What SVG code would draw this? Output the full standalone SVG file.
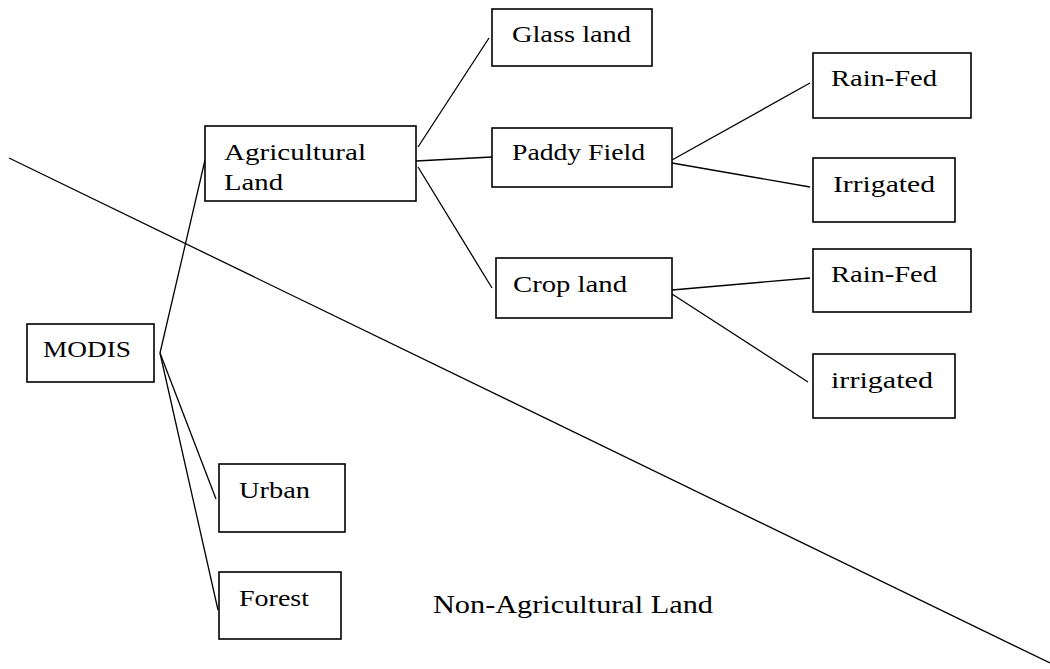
<svg xmlns="http://www.w3.org/2000/svg" width="1050" height="669" viewBox="0 0 1050 669">
<style>
.box{fill:#fff;stroke:#000;stroke-width:1.6}
.lbl{font-family:"Liberation Serif","Times New Roman",serif;font-size:24px;fill:#000}
.big{font-family:"Liberation Serif","Times New Roman",serif;font-size:26px;fill:#000}
.conn line{stroke:#000;stroke-width:1.3;fill:none}
</style>
<rect width="1050" height="669" fill="#fff"/>
<g id="divider" class="conn"><line x1="9" y1="158" x2="1050" y2="663"/></g>
<g id="connectors" class="conn">
<line x1="160" y1="353" x2="205" y2="160"/>
<line x1="160" y1="353" x2="216" y2="499"/>
<line x1="160" y1="353" x2="218" y2="610"/>
<line x1="418" y1="147" x2="489" y2="38"/>
<line x1="416" y1="161" x2="492" y2="157"/>
<line x1="418" y1="167" x2="492" y2="288"/>
<line x1="672" y1="160" x2="810" y2="83"/>
<line x1="672" y1="163" x2="810" y2="187"/>
<line x1="672" y1="290" x2="810" y2="278"/>
<line x1="672" y1="294" x2="808" y2="382"/>
</g>
<g id="modis"><rect class="box" x="27" y="324" width="127" height="58"/><text class="lbl" x="43" y="357" textLength="88" lengthAdjust="spacingAndGlyphs">MODIS</text></g>
<g id="agri"><rect class="box" x="205" y="126" width="211" height="75"/><text class="lbl" x="224" y="160" textLength="142" lengthAdjust="spacingAndGlyphs">Agricultural</text><text class="lbl" x="224" y="190" textLength="59" lengthAdjust="spacingAndGlyphs">Land</text></g>
<g id="glass"><rect class="box" x="492" y="9" width="160" height="57"/><text class="lbl" x="512" y="42" textLength="119" lengthAdjust="spacingAndGlyphs">Glass land</text></g>
<g id="paddy"><rect class="box" x="492" y="128" width="180" height="59"/><text class="lbl" x="512" y="160" textLength="133" lengthAdjust="spacingAndGlyphs">Paddy Field</text></g>
<g id="crop"><rect class="box" x="496" y="258" width="176" height="60"/><text class="lbl" x="513" y="292" textLength="114" lengthAdjust="spacingAndGlyphs">Crop land</text></g>
<g id="rainfed1"><rect class="box" x="813" y="53" width="158" height="65"/><text class="lbl" x="831" y="86" textLength="106" lengthAdjust="spacingAndGlyphs">Rain-Fed</text></g>
<g id="irrigated1"><rect class="box" x="813" y="158" width="142" height="64"/><text class="lbl" x="833" y="192" textLength="102" lengthAdjust="spacingAndGlyphs">Irrigated</text></g>
<g id="rainfed2"><rect class="box" x="813" y="249" width="158" height="63"/><text class="lbl" x="831" y="282" textLength="106" lengthAdjust="spacingAndGlyphs">Rain-Fed</text></g>
<g id="irrigated2"><rect class="box" x="813" y="354" width="142" height="64"/><text class="lbl" x="831" y="388" textLength="102" lengthAdjust="spacingAndGlyphs">irrigated</text></g>
<g id="urban"><rect class="box" x="219" y="464" width="126" height="68"/><text class="lbl" x="239" y="498" textLength="71" lengthAdjust="spacingAndGlyphs">Urban</text></g>
<g id="forest"><rect class="box" x="219" y="572" width="122" height="67"/><text class="lbl" x="239" y="606" textLength="70" lengthAdjust="spacingAndGlyphs">Forest</text></g>
<g id="nonagri"><text class="big" x="433" y="613" textLength="280" lengthAdjust="spacingAndGlyphs">Non-Agricultural Land</text></g>
</svg>
